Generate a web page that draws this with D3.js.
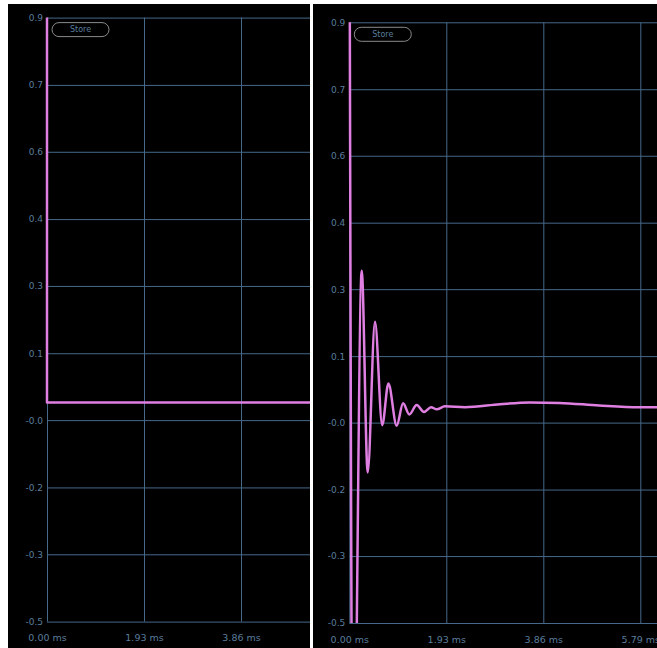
<!DOCTYPE html>
<html>
<head>
<meta charset="utf-8">
<script src="https://cdn.jsdelivr.net/npm/d3@7"></script>
<style>
  html, body { margin: 0; padding: 0; background: #fff; }
  svg { display: block; }
</style>
</head>
<body>
<svg id="chart" width="657" height="648"></svg>
<script>
// y ticks: 10 evenly spaced values from 0.9 down to -0.5, labels rounded to 1 decimal
const yTicks = [0.9, 0.744, 0.589, 0.433, 0.278, 0.122, -0.033, -0.189, -0.344, -0.5];
const yTickLabels = ['0.9', '0.7', '0.6', '0.4', '0.3', '0.1', '-0.0', '-0.2', '-0.3', '-0.5'];
const xTicks = [0, 1.93, 3.86, 5.79];
const xTickLabels = ['0.00 ms', '1.93 ms', '3.86 ms', '5.79 ms'];

// left panel: step
const stepTime = [0, 0, 6.5];
const stepValue = [1.4, 0.008, 0.008];

// right panel: ringing response
const respTime = [0, 0.075, 0.247, 0.366, 0.511, 0.655, 0.778, 0.943, 1.07, 1.194, 1.341, 1.486, 1.626, 1.739, 1.903, 2.3, 3.0, 3.59, 4.18, 4.97, 5.76, 6.2];
const respValue = [1.4, -1.05, 0.321, -0.149, 0.202, -0.039, 0.058, -0.040, 0.012, -0.014, 0.008, -0.008, 0.003, -0.002, 0.005, 0.003, 0.010, 0.014, 0.013, 0.007, 0.003, 0.003];

const svg = d3.select('#chart');

const gridColor = '#46698a';
const labelColor = '#5a7d9c';
const lineColor = '#e07fe2';

function drawPanel(id, box, plot, times, values, curve) {
  const g = svg.append('g');
  g.append('rect')
    .attr('x', box.x).attr('y', box.y)
    .attr('width', box.w).attr('height', box.h)
    .attr('fill', '#000');

  const clipId = 'clip-' + id;
  g.append('clipPath').attr('id', clipId)
    .append('rect')
    .attr('x', box.x).attr('y', box.y)
    .attr('width', box.w).attr('height', box.h);

  const inner = g.append('g').attr('clip-path', `url(#${clipId})`);

  const x = d3.scaleLinear().domain([0, 5.79]).range([plot.left, plot.left + 291]);
  const y = d3.scaleLinear().domain([-0.5, 0.9]).range([plot.bottom, plot.top]);

  // horizontal grid + y labels
  const yAxis = d3.axisLeft(y)
    .tickValues(yTicks)
    .tickSize(-(box.x + box.w - plot.left))
    .tickPadding(4)
    .tickFormat((d, i) => yTickLabels[i]);
  const ya = inner.append('g').attr('transform', `translate(${plot.left},0)`).call(yAxis);
  ya.select('.domain').remove();
  ya.selectAll('line').attr('stroke', gridColor).attr('stroke-width', 1);
  ya.selectAll('text')
    .attr('fill', labelColor)
    .attr('font-family', 'DejaVu Sans, sans-serif')
    .attr('font-size', 9)
    .attr('dy', '0.32em');

  // vertical grid + x labels
  const xAxis = d3.axisBottom(x)
    .tickValues(xTicks)
    .tickSize(-(plot.bottom - plot.top))
    .tickPadding(13)
    .tickFormat((d, i) => xTickLabels[i]);
  const xa = inner.append('g').attr('transform', `translate(0,${plot.bottom})`).call(xAxis);
  xa.select('.domain').remove();
  xa.selectAll('line').attr('stroke', gridColor).attr('stroke-width', 1);
  xa.selectAll('text')
    .attr('fill', labelColor)
    .attr('font-family', 'DejaVu Sans, sans-serif')
    .attr('font-size', 9.5);

  // data line, clipped to plot area
  const lineClip = 'lineclip-' + id;
  g.append('clipPath').attr('id', lineClip)
    .append('rect')
    .attr('x', plot.left - 2).attr('y', plot.top)
    .attr('width', box.x + box.w - plot.left + 2).attr('height', plot.bottom - plot.top);

  const pts = times.map((t, i) => [t, values[i]]);
  const line = d3.line()
    .x(d => x(d[0]))
    .y(d => y(d[1]))
    .curve(curve);
  g.append('path')
    .attr('clip-path', `url(#${lineClip})`)
    .attr('d', line(pts))
    .attr('fill', 'none')
    .attr('stroke', lineColor)
    .attr('stroke-width', 2.5)
    .attr('stroke-linejoin', 'round');

  // store button
  const bx = plot.left + 5, by = plot.top + 5;
  g.append('rect')
    .attr('x', bx).attr('y', by)
    .attr('width', 57).attr('height', 14)
    .attr('rx', 7)
    .attr('fill', '#000')
    .attr('stroke', '#8a8a8a')
    .attr('stroke-width', 1);
  g.append('text')
    .attr('x', bx + 28.5).attr('y', by + 7)
    .attr('dy', '0.35em')
    .attr('text-anchor', 'middle')
    .attr('fill', labelColor)
    .attr('font-family', 'DejaVu Sans, sans-serif')
    .attr('font-size', 8)
    .text('Store');
}

drawPanel('left',
  {x: 8, y: 4, w: 302, h: 644},
  {left: 47, top: 17.6, bottom: 621.6},
  stepTime, stepValue, d3.curveLinear);

drawPanel('right',
  {x: 313, y: 4, w: 344, h: 644},
  {left: 349.3, top: 22.3, bottom: 623},
  respTime, respValue, d3.curveMonotoneX);
</script>
</body>
</html>
